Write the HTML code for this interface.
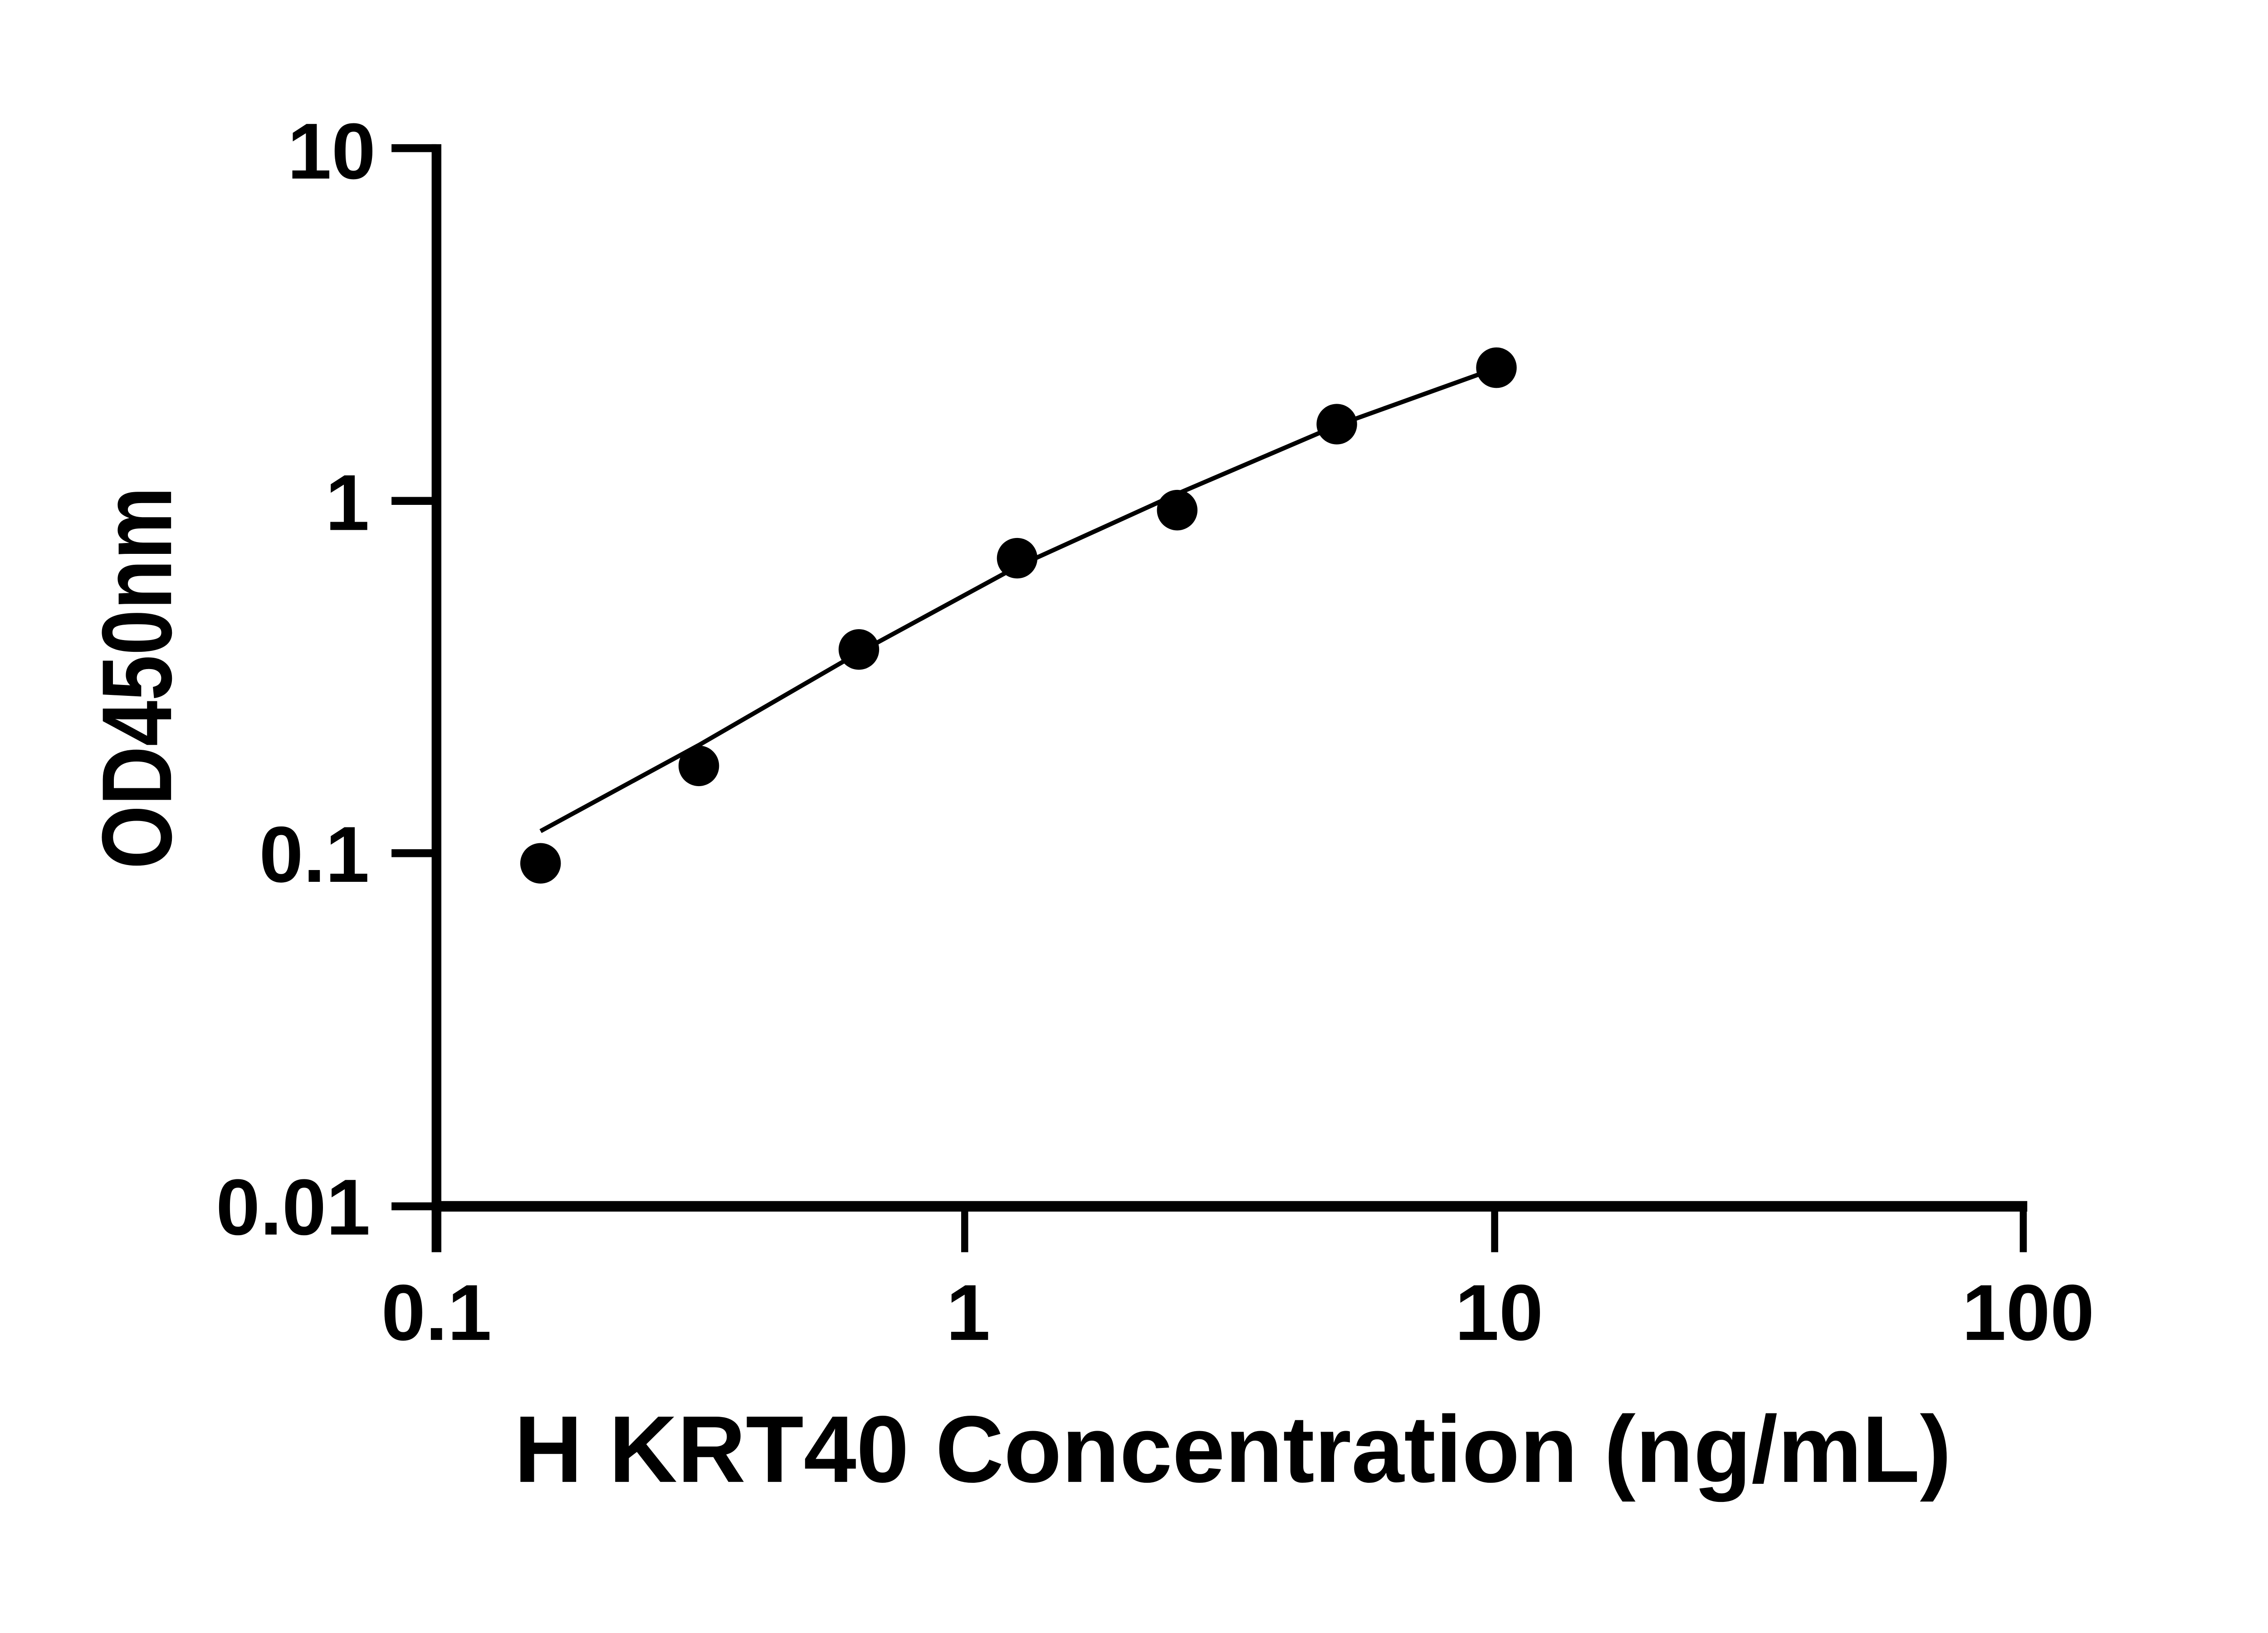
<!DOCTYPE html>
<html><head><style>html,body{margin:0;padding:0;background:#fff}</style></head><body>
<svg width="5142" height="3600" xmlns="http://www.w3.org/2000/svg" style="display:block">
<rect width="5142" height="3600" fill="#fff"/>
<g transform="scale(0.972)">
<g stroke="#000" fill="none" stroke-linecap="butt">
<line x1="990" y1="327" x2="990" y2="2840" stroke-width="22"/>
<line x1="979" y1="2736" x2="4598" y2="2736" stroke-width="24"/>
<line x1="888" y1="336" x2="990" y2="336" stroke-width="18"/>
<line x1="888" y1="1136" x2="990" y2="1136" stroke-width="18"/>
<line x1="888" y1="1935" x2="990" y2="1935" stroke-width="18"/>
<line x1="888" y1="2736" x2="990" y2="2736" stroke-width="18"/>
<line x1="2188" y1="2736" x2="2188" y2="2840" stroke-width="16"/>
<line x1="3390" y1="2736" x2="3390" y2="2840" stroke-width="16"/>
<line x1="4589" y1="2736" x2="4589" y2="2840" stroke-width="16"/>
<polyline points="1226,1885 1585,1690 1948,1480 2307,1285 2670,1120 3032,965 3352,850" stroke-width="10"/>
</g>
<g fill="#000">
<circle cx="1226" cy="1958" r="46"/>
<circle cx="1585" cy="1737" r="46"/>
<circle cx="1948" cy="1473" r="46"/>
<circle cx="2307" cy="1266" r="46"/>
<circle cx="2670" cy="1157" r="46"/>
<circle cx="3032" cy="962" r="46"/>
<circle cx="3394" cy="834" r="46"/>
</g>
<g font-family="Liberation Sans, sans-serif" font-weight="bold" font-size="180" fill="#000" text-anchor="end">
<text x="852" y="405">10</text>
<text x="838" y="1202">1</text>
<text x="838" y="2000">0.1</text>
<text x="840" y="2800">0.01</text>
</g>
<g font-family="Liberation Sans, sans-serif" font-weight="bold" font-size="180" fill="#000" text-anchor="middle">
<text x="990" y="3039">0.1</text>
<text x="2196" y="3039">1</text>
<text x="3400" y="3039">10</text>
<text x="4600" y="3039">100</text>
</g>
<text x="1166" y="3361" font-family="Liberation Sans, sans-serif" font-weight="bold" font-size="215" textLength="3260" lengthAdjust="spacingAndGlyphs">H KRT40 Concentration (ng/mL)</text>
<text transform="translate(388,1971) rotate(-90)" font-family="Liberation Sans, sans-serif" font-weight="bold" font-size="225" textLength="867" lengthAdjust="spacingAndGlyphs">OD450nm</text>
</g>
</svg>
</body></html>
